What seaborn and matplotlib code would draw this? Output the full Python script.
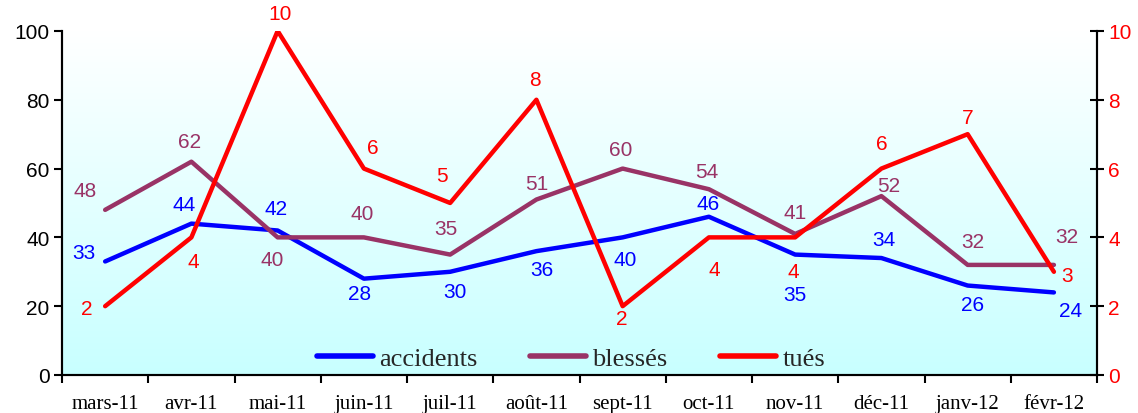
import matplotlib
matplotlib.use("Agg")
import matplotlib.pyplot as plt
import numpy as np
import pandas as pd
import seaborn as sns
from matplotlib.colors import LinearSegmentedColormap

sns.set_theme(style="white")
plt.rcParams["font.family"] = ["Liberation Sans", "DejaVu Sans"]

months = ["mars-11", "avr-11", "mai-11", "juin-11", "juil-11", "août-11",
          "sept-11", "oct-11", "nov-11", "déc-11", "janv-12", "févr-12"]
accidents = [33, 44, 42, 28, 30, 36, 40, 46, 35, 34, 26, 24]
blesses = [48, 62, 40, 40, 35, 51, 60, 54, 41, 52, 32, 32]
tues = [2, 4, 10, 6, 5, 8, 2, 4, 4, 6, 7, 3]

# label offsets in pixels (dx, dy)
off_acc = [(-21, 9), (-7, 19), (-2, 22), (-4, -15), (5, -20), (5, -18),
           (3, -22), (-1, 13), (0, -40), (2, 19), (5, -19), (17, -18)]
off_bl = [(-20, 19), (-2, 20), (-5, -22), (-2, 24), (-4, 26), (0, 16),
          (-2, 19), (-2, 18), (0, 21), (7, 11), (5, 23), (13, 28)]
off_tu = [(-18, -2), (2, -24), (2, 17), (9, 21), (-8, 27), (-1, 20),
          (-1, -12), (5, -32), (-2, -34), (0, 25), (0, 17), (13, -4)]

BLUE = "#0000FF"
PURPLE = "#993366"
RED = "#FF0000"

df = pd.DataFrame({"x": np.arange(len(months)), "accidents": accidents,
                   "blessés": blesses, "tués": tues})

fig = plt.figure(figsize=(11.38, 4.14), dpi=100)
ax = fig.add_axes([0.0545, 0.0918, 0.9095, 0.831])
ax2 = ax.twinx()

# gradient background
cmap = LinearSegmentedColormap.from_list("bg", ["#C8FFFF", "#FFFFFF"])
grad = np.linspace(0, 1, 256).reshape(-1, 1)
ax.imshow(grad, aspect="auto", cmap=cmap, origin="lower",
          extent=[0, 1, 0, 1], transform=ax.transAxes, zorder=0)
ax.patch.set_visible(False)
ax2.patch.set_visible(False)

sns.lineplot(data=df, x="x", y="accidents", ax=ax, color=BLUE, lw=3.2,
             label="accidents", legend=False)
sns.lineplot(data=df, x="x", y="blessés", ax=ax, color=PURPLE, lw=3.2,
             label="blessés", legend=False)
sns.lineplot(data=df, x="x", y="tués", ax=ax2, color=RED, lw=3.2,
             label="tués", legend=False)

for vals, offs, a, c in [(accidents, off_acc, ax, BLUE),
                         (blesses, off_bl, ax, PURPLE),
                         (tues, off_tu, ax2, RED)]:
    for i, (v, o) in enumerate(zip(vals, offs)):
        a.annotate(str(v), (i, v), xytext=o, textcoords="offset pixels",
                   ha="center", va="center", color=c, fontsize=15,
                   annotation_clip=False)

ax.set_xlim(-0.5, len(months) - 0.5)
ax.set_ylim(0, 100)
ax2.set_ylim(0, 10)
ax.set_yticks(range(0, 101, 20))
ax2.set_yticks(range(0, 11, 2))
ax.set_xticks(np.arange(-0.5, len(months), 1))
ax.set_xticklabels([])
ax.set_xticks(np.arange(len(months)), minor=True)
ax.set_xticklabels(months, minor=True, family=["Liberation Serif", "DejaVu Serif"],
                   fontsize=15)
ax.tick_params(axis="x", which="major", direction="out", length=6, width=1.5,
               color="black", bottom=True)
ax.tick_params(axis="x", which="minor", length=0, pad=14, labelcolor="black")
ax.tick_params(axis="y", direction="out", length=6, width=1.5, color="black",
               left=True, labelsize=15, labelcolor="black", pad=3)
ax2.tick_params(axis="y", direction="inout", length=10, width=1.5, color="black",
                right=True, labelsize=15, labelcolor=RED, pad=3)
ax.set_xlabel("")
ax.set_ylabel("")
ax2.set_ylabel("")

for a in (ax, ax2):
    a.spines["top"].set_visible(False)
    for s in ("left", "bottom", "right"):
        a.spines[s].set_color("black")
        a.spines[s].set_linewidth(1.5)
    a.grid(False)

h1, l1 = ax.get_legend_handles_labels()
h2, l2 = ax2.get_legend_handles_labels()
leg = ax2.legend(h1 + h2, l1 + l2, loc="lower center", ncol=3, frameon=False,
                 bbox_to_anchor=(0.492, -0.055), handlelength=2.1, columnspacing=2.0,
                 handletextpad=0.25, prop={"family": ["Liberation Serif"], "size": 19})
for line in leg.get_lines():
    line.set_linewidth(4)

fig.savefig("out.png", dpi=100)
